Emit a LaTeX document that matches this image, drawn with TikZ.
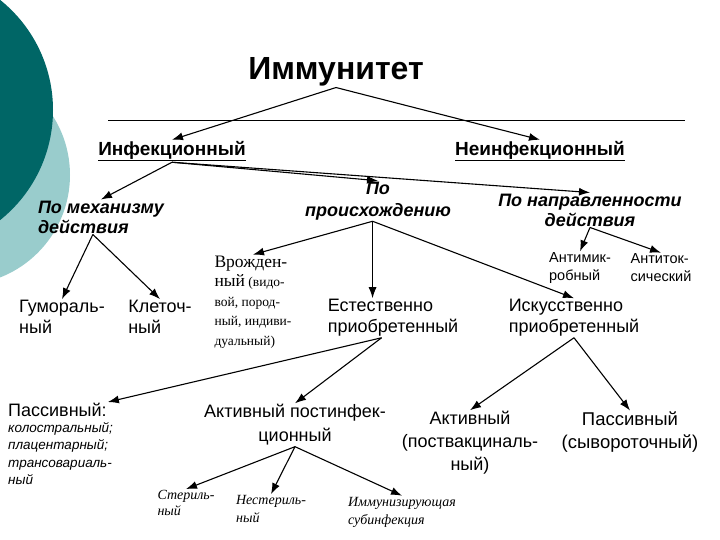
\documentclass[tikz,border=0pt]{standalone}
\usepackage{fontspec}
\setmainfont{Liberation Sans}
\newfontfamily\serifcyr{Liberation Serif}
\definecolor{TealDark}{HTML}{006666}
\definecolor{TealLight}{HTML}{99CCCC}
\usetikzlibrary{arrows.meta}
\newcommand{\fs}[2]{\fontsize{#1}{#2}\selectfont}

\begin{document}
\begin{tikzpicture}[x=1pt, y=1pt, >={Latex[length=11pt, width=8pt]},
  head/.style={font=\fs{18}{20}\bfseries\itshape, inner sep=1pt},
  leaf/.style={font=\fs{18}{21}, inner sep=1pt, align=left},
  small/.style={font=\fs{14.5}{18}, inner sep=1pt, align=left},
  note/.style={font=\serifcyr\itshape\fs{14}{16}, inner sep=1pt, align=left},
  arr/.style={->, line width=1.1pt}]
  \useasboundingbox (0,0) rectangle (720,-540);
  % Background circles
  \begin{scope}
    \clip (0,0) rectangle (720,-540);
    \fill[TealLight] (-40,-175) circle[radius=110pt];
    \fill[TealDark] (-88,-110) circle[radius=141pt];
  \end{scope}
  % Title
  \node[font=\fs{32}{34}\bfseries, inner sep=1pt] (immunitet) at (336,-72) {Иммунитет};
  \draw[line width=0.6pt] (108,-120) -- (685,-120);
  % First level
  \node[font=\fs{19}{20}\bfseries, inner sep=1pt] (infek) at (172,-151) {\underline{Инфекционный}};
  \node[font=\fs{19}{20}\bfseries, inner sep=1pt] (neinf) at (540,-151) {\underline{Неинфекционный}};
  % Criteria
  \node[head, align=left] (mech) at (101,-217) {По механизму\\действия};
  \node[head, align=center, font=\fs{18}{22}\bfseries\itshape] (proish) at (378,-201) {По\\происхождению};
  \node[head, align=center] (naprav) at (590,-210) {По направленности\\действия};
  % Kinds
  \node[leaf] (gumor) at (62,-317) {Гумораль-\\ный};
  \node[leaf] (klet) at (160,-317) {Клеточ-\\ный};
  \node[font=\serifcyr\fs{13.5}{19.5}, inner sep=1pt, align=left] (vrozh) at (253,-302)
    {{\fs{17.5}{19.5}Врожден-}\\{\fs{17.5}{19.5}ный} (видо-\\вой, пород-\\ный, индиви-\\дуальный)};
  \node[leaf] (estest) at (393,-318) {Естественно\\приобретенный};
  \node[leaf] (iskus) at (574,-318) {Искусственно\\приобретенный};
  \node[small] (antimik) at (580,-268) {Антимик-\\робный};
  \node[small] (antitox) at (661,-268) {Антиток-\\сический};
  % Acquired immunity
  \node[font=\fs{18}{20}, inner sep=1pt, anchor=west] (passiv) at (7,-410) {Пассивный:};
  \node[font=\fs{13.5}{17.5}\itshape, inner sep=1pt, align=left, anchor=north west] (passlist) at (7,-421)
    {колостральный;\\плацентарный;\\трансовариаль-\\ный};
  \node[leaf, align=center, font=\fs{18}{24}] (aktpost) at (295,-425) {Активный постинфек-\\ционный};
  \node[leaf, align=center, font=\fs{18}{23}] (aktvac) at (470,-443) {Активный\\(поствакциналь-\\ный)};
  \node[leaf, align=center, font=\fs{18.5}{23}] (passer) at (630,-432) {Пассивный\\(сывороточный)};
  \node[note] (steril) at (186,-503) {Стериль-\\ный};
  \node[note, font=\serifcyr\itshape\fs{14}{18}] (nester) at (271,-509) {Нестериль-\\ный};
  \node[note, font=\serifcyr\itshape\fs{14}{18}] (subinf) at (402,-512) {Иммунизирующая\\субинфекция};
  % Connectors
  \draw[arr] (immunitet.south) -- (infek.north);
  \draw[arr] (immunitet.south) -- (neinf.north);
  \draw[arr] (infek.south) -- (mech.north);
  \draw[arr] (infek.south) -- (proish.north);
  \draw[arr] (infek.south) -- (naprav.north);
  \draw[arr] (mech.-115) -- (gumor.north);
  \draw[arr] (mech.-115) -- (klet.north);
  \draw[arr] (proish.-105) -- (vrozh.north);
  \draw[arr] (proish.-105) -- (proish.-105 |- estest.north);
  \draw[arr] (proish.-105) -- (iskus.north);
  \draw[arr] (naprav.south) -- (antimik.north);
  \draw[arr] (naprav.south) -- (antitox.north);
  \draw[arr] (estest.-120) -- (passiv.north east);
  \draw[arr] (estest.-120) -- (aktpost.north);
  \draw[arr] (iskus.south) -- (aktvac.north);
  \draw[arr] (iskus.south) -- (passer.north);
  \draw[arr] (aktpost.south) -- (steril.north);
  \draw[arr] (aktpost.south) -- (nester.north);
  \draw[arr] (aktpost.south) -- (subinf.north);
\end{tikzpicture}
\end{document}
